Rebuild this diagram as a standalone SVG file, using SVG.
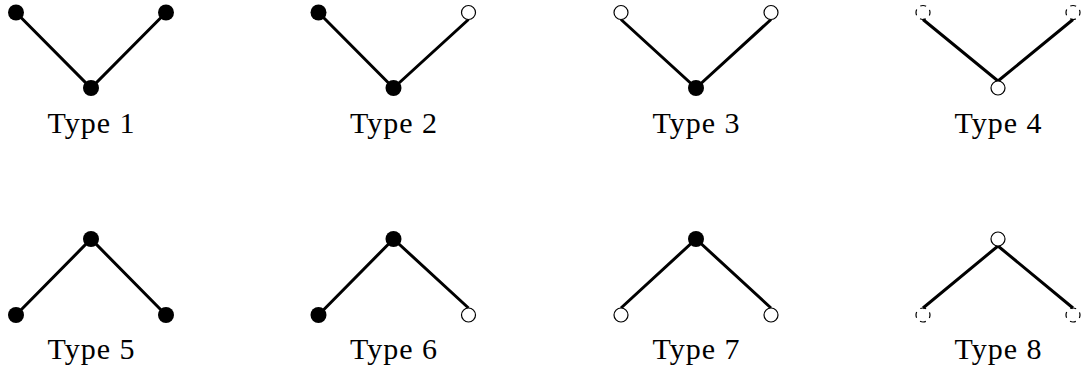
<svg xmlns="http://www.w3.org/2000/svg" width="1085" height="376" viewBox="0 0 1085 376">
<style>
.e{stroke:#000;stroke-width:3;fill:none;stroke-linecap:butt}
.f{fill:#000;stroke:none}
.o{fill:#fff;stroke:#000;stroke-width:1.2}
.d{fill:none;stroke:#000;stroke-width:1.2;stroke-dasharray:6 5;stroke-dashoffset:3}
.t{font-family:"Liberation Serif","Times New Roman",serif;font-size:30px;fill:#000;text-anchor:middle}
</style>
<rect width="1085" height="376" fill="#fff"/>
<g id="connectors">
<polyline class="e" points="16,12.5 91,88 166,12.5"/>
<polyline class="e" points="318.5,12.5 393.5,88 468.5,19.5"/>
<polyline class="e" points="621,19.5 696,88 771,19.5"/>
<polyline class="e" points="923,19.5 998,81 1073,19.5"/>
<polyline class="e" points="16,315 91,239 166,315"/>
<polyline class="e" points="318.5,315 393.5,239 468.5,308"/>
<polyline class="e" points="621,308 696,239 771,308"/>
<polyline class="e" points="923,308 998,246 1073,308"/>
</g>
<g id="type1">
<circle class="f" cx="16" cy="12.5" r="8"/><circle class="f" cx="91" cy="88" r="8"/><circle class="f" cx="166" cy="12.5" r="8"/>
<text class="t" x="91" y="133" textLength="87" lengthAdjust="spacing">Type 1</text>
</g>
<g id="type2">
<circle class="f" cx="318.5" cy="12.5" r="8"/><circle class="f" cx="393.5" cy="88" r="8"/><circle class="o" cx="468.5" cy="12.5" r="7"/>
<text class="t" x="393.5" y="133" textLength="87" lengthAdjust="spacing">Type 2</text>
</g>
<g id="type3">
<circle class="o" cx="621" cy="12.5" r="7"/><circle class="f" cx="696" cy="88" r="8"/><circle class="o" cx="771" cy="12.5" r="7"/>
<text class="t" x="696" y="133" textLength="87" lengthAdjust="spacing">Type 3</text>
</g>
<g id="type4">
<circle class="d" cx="923" cy="12.5" r="7"/><circle class="o" cx="998" cy="88" r="7"/><circle class="d" cx="1073" cy="12.5" r="7"/>
<text class="t" x="998" y="133" textLength="87" lengthAdjust="spacing">Type 4</text>
</g>
<g id="type5">
<circle class="f" cx="16" cy="315" r="8"/><circle class="f" cx="91" cy="239" r="8"/><circle class="f" cx="166" cy="315" r="8"/>
<text class="t" x="91" y="359" textLength="87" lengthAdjust="spacing">Type 5</text>
</g>
<g id="type6">
<circle class="f" cx="318.5" cy="315" r="8"/><circle class="f" cx="393.5" cy="239" r="8"/><circle class="o" cx="468.5" cy="315" r="7"/>
<text class="t" x="393.5" y="359" textLength="87" lengthAdjust="spacing">Type 6</text>
</g>
<g id="type7">
<circle class="o" cx="621" cy="315" r="7"/><circle class="f" cx="696" cy="239" r="8"/><circle class="o" cx="771" cy="315" r="7"/>
<text class="t" x="696" y="359" textLength="87" lengthAdjust="spacing">Type 7</text>
</g>
<g id="type8">
<circle class="d" cx="923" cy="315" r="7"/><circle class="o" cx="998" cy="239" r="7"/><circle class="d" cx="1073" cy="315" r="7"/>
<text class="t" x="998" y="359" textLength="87" lengthAdjust="spacing">Type 8</text>
</g>
</svg>
